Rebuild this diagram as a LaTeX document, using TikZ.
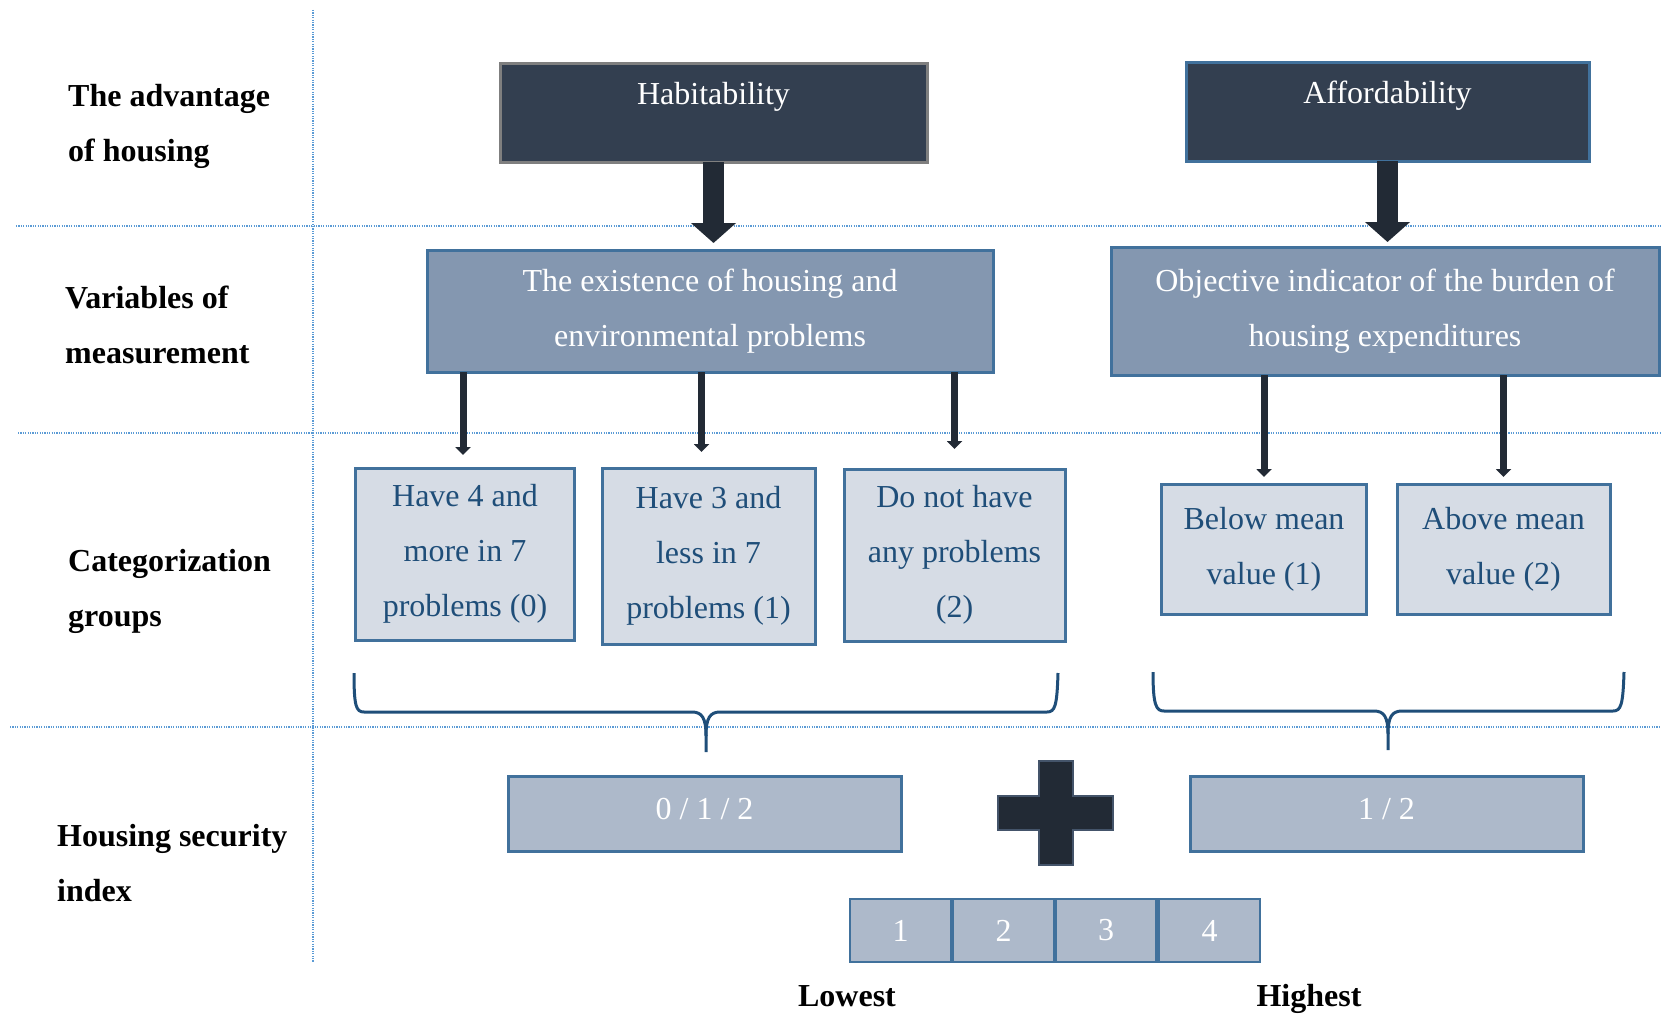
\documentclass[tikz,border=0pt]{standalone}
\usepackage{fontspec}
\setmainfont{Liberation Serif}
\usepackage{tikz}
\usetikzlibrary{arrows.meta}
\usepackage{xcolor}

\definecolor{headFill}{HTML}{333F50}
\definecolor{headEdge}{HTML}{7F7F7F}
\definecolor{midFill}{HTML}{8497B0}
\definecolor{lightFill}{HTML}{D6DCE5}
\definecolor{indexFill}{HTML}{ADB9CA}
\definecolor{boxEdge}{HTML}{41719C}
\definecolor{arrowDark}{HTML}{222A35}
\definecolor{plusEdge}{HTML}{44546A}
\definecolor{textBlue}{HTML}{1F4E79}
\definecolor{gridBlue}{HTML}{5B9BD5}

\begin{document}
\begin{tikzpicture}[x=1pt, y=-1pt,
  boxStyle/.style={rectangle, draw=boxEdge, line width=3pt, inner sep=0pt, outer sep=0pt, align=center, font=\fontsize{32}{55}\selectfont},
  headBox/.style={boxStyle, fill=headFill, text=white, minimum height=98pt, text height=22pt, text depth=38pt},
  midBox/.style={boxStyle, fill=midFill, text=white},
  catBox/.style={boxStyle, fill=lightFill, text=textBlue},
  indexBox/.style={boxStyle, fill=indexFill, text=white},
  rowLabel/.style={anchor=base west, inner sep=0pt, align=left, font=\bfseries\fontsize{32}{55}\selectfont},
  endLabel/.style={anchor=base, inner sep=0pt, font=\bfseries\fontsize{32}{40}\selectfont},
  gridLine/.style={draw=gridBlue, line width=1.2pt, dash pattern=on 1.2pt off 1.2pt},
  bigArrow/.style={draw=arrowDark, line width=21pt, -{Triangle[width=44pt, length=20pt]}},
  thinArrow/.style={draw=arrowDark, line width=7pt, -{Triangle[width=15pt, length=8pt]}},
  braceLine/.style={draw=textBlue, line width=3pt}
]
\useasboundingbox (0,0) rectangle (1661,1014);

\draw[gridLine] (313,10) -- (313,962);
\draw[gridLine] (16,226) -- (1661,226);
\draw[gridLine] (18,433) -- (1661,433);
\draw[gridLine] (10,727) -- (1661,727);

\node[rowLabel] (lblAdvantage) at (68,161) {The advantage\\of housing};
\node[rowLabel] (lblVariables) at (65,363) {Variables of\\measurement};
\node[rowLabel] (lblGroups) at (68,626) {Categorization\\groups};
\node[rowLabel] (lblIndex) at (57,901) {Housing security\\index};

\node[headBox, draw=headEdge, minimum width=427pt] (habit) at (713.5,113) {Habitability};
\node[headBox, minimum width=403pt] (afford) at (1387.5,112) {Affordability};

\node[midBox, minimum width=566pt, minimum height=122pt] (exist) at (710,311) {The existence of housing and\\environmental problems};
\node[midBox, minimum width=548pt, minimum height=128pt] (burden) at (1385,311) {Objective indicator of the burden of\\housing expenditures};

\node[catBox, minimum width=219.5pt, minimum height=172pt] (fourMore) at (465,554) {Have 4 and\\more in 7\\problems (0)};
\node[catBox, minimum width=213pt, minimum height=176pt] (threeLess) at (708.5,556) {Have 3 and\\less in 7\\problems (1)};
\node[catBox, minimum width=221pt, minimum height=172pt] (noProblem) at (954.5,555) {Do not have\\any problems\\(2)};
\node[catBox, minimum width=204.5pt, minimum height=130pt] (belowMean) at (1264,549) {Below mean\\value (1)};
\node[catBox, minimum width=213pt, minimum height=130pt] (aboveMean) at (1503.5,549) {Above mean\\value (2)};

\node[indexBox, minimum width=393pt, minimum height=75pt, text height=22pt, text depth=10pt] (habitScore) at (704.5,813.5) {0 / 1 / 2};
\node[indexBox, minimum width=393pt, minimum height=75pt, text height=22pt, text depth=10pt] (affordScore) at (1386.5,813.5) {1 / 2};

\foreach \n/\x in {1/900.5, 2/1003.5, 3/1106, 4/1209.5}
  \node[indexBox, minimum width=101pt, minimum height=63pt, line width=2.5pt] (score\n) at (\x,930.5) {\n};

\node[endLabel] (lowest) at (847,1006) {Lowest};
\node[endLabel] (highest) at (1309,1006) {Highest};

\draw[bigArrow, shorten >=7pt] (habit.south) -- (habit.south |- exist.north);
\draw[bigArrow, shorten >=5pt] (afford.south) -- (afford.south |- burden.north);

\foreach \cat/\dx/\gap in {fourMore/-2pt/13pt, threeLess/-7pt/16pt, noProblem/0pt/20pt}
  \draw[thinArrow, shorten >=\gap] ([xshift=\dx]\cat.north |- exist.south) -- ([xshift=\dx]\cat.north);
\foreach \cat/\gap in {belowMean/7pt, aboveMean/7pt}
  \draw[thinArrow, shorten >=\gap] (\cat.north |- burden.south) -- (\cat.north);

\draw[braceLine] (354,673) .. controls (354,706) and (356,712) .. (364,712) -- (692,712) .. controls (702,712) and (706,718) .. (706,736) -- (706,752);
\draw[braceLine] (1058,673) .. controls (1057,706) and (1055,712) .. (1047,712) -- (720,712) .. controls (710,712) and (706,718) .. (706,736);
\draw[braceLine] (1153,672) .. controls (1153,705) and (1156,711) .. (1164,711) -- (1374,711) .. controls (1384,711) and (1388,717) .. (1388,734) -- (1388,750);
\draw[braceLine] (1624,672) .. controls (1623,705) and (1621,711) .. (1613,711) -- (1402,711) .. controls (1392,711) and (1388,717) .. (1388,734);

\draw[draw=plusEdge, fill=arrowDark, line width=2pt] (1039,761) -- (1073,761) -- (1073,796) -- (1113,796) -- (1113,830) -- (1073,830) -- (1073,865) -- (1039,865) -- (1039,830) -- (998,830) -- (998,796) -- (1039,796) -- cycle;
\end{tikzpicture}
\end{document}
